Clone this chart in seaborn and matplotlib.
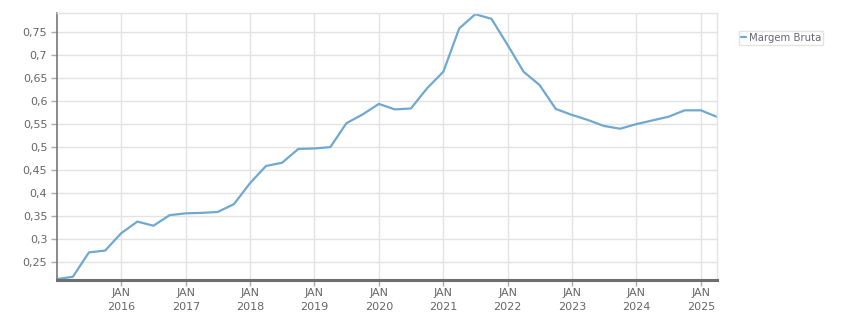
import matplotlib
matplotlib.use("Agg")
import matplotlib.pyplot as plt
import numpy as np
import pandas as pd
import seaborn as sns

# Data (quarterly)
dates = pd.date_range("2015-01-01", "2025-04-01", freq="QS")
margem_bruta = [
    0.212, 0.217, 0.270, 0.274, 0.312, 0.337, 0.328, 0.351,
    0.355, 0.356, 0.358, 0.375, 0.421, 0.458, 0.465, 0.495,
    0.496, 0.499, 0.551, 0.570, 0.593, 0.581, 0.583, 0.627,
    0.663, 0.757, 0.788, 0.778, 0.721, 0.663, 0.634, 0.582,
    0.569, 0.558, 0.545, 0.539, 0.549, 0.557, 0.565, 0.579,
    0.579, 0.565,
]
series_name = "Margem Bruta"
y_ticks = [0.25, 0.3, 0.35, 0.4, 0.45, 0.5, 0.55, 0.6, 0.65, 0.7, 0.75]
y_tick_labels = ["0,25", "0,3", "0,35", "0,4", "0,45", "0,5", "0,55", "0,6", "0,65", "0,7", "0,75"]
x_tick_years = [2016, 2017, 2018, 2019, 2020, 2021, 2022, 2023, 2024, 2025]

df = pd.DataFrame({"date": dates, "value": margem_bruta, "serie": series_name})

sns.set_theme(style="white")
plt.rcParams["font.family"] = ["DejaVu Sans"]

W, H = 851, 313
fig = plt.figure(figsize=(W / 100, H / 100), dpi=100)
ax = fig.add_axes([57 / W, 1 - 280 / H, (716.7 - 57) / W, (280 - 13.3) / H])

line_color = "#6fa9d0"
sns.lineplot(data=df, x="date", y="value", ax=ax, color=line_color, linewidth=1.6,
             label=series_name, legend=False)

ax.set_xlim(dates[0], dates[-1])
ax.set_ylim(0.21, 0.79)

ax.set_yticks(y_ticks)
ax.set_yticklabels(y_tick_labels)
xt = [pd.Timestamp(f"{y}-01-01") for y in x_tick_years]
ax.set_xticks(xt)
ax.set_xticklabels([f"JAN\n{y}" for y in x_tick_years])

ax.grid(True, color="#e3e3e3", linewidth=1)
ax.set_axisbelow(True)
ax.set_xlabel("")
ax.set_ylabel("")

for s in ["top", "right"]:
    ax.spines[s].set_color("#e3e3e3")
    ax.spines[s].set_linewidth(1)
ax.spines["left"].set_color("#777777")
ax.spines["left"].set_linewidth(1.2)
ax.spines["bottom"].set_color("#6e6e6e")
ax.spines["bottom"].set_linewidth(2.2)

ax.tick_params(axis="y", which="both", left=True, length=4, width=1, color="#aaaaaa",
               labelsize=8, labelcolor="#666666", pad=3)
ax.tick_params(axis="x", which="both", bottom=True, length=4, width=1, color="#aaaaaa",
               labelsize=8, labelcolor="#666666", pad=2)
for lbl in ax.get_xticklabels():
    lbl.set_linespacing(1.5)

leg = fig.legend(handles=ax.get_lines()[:1], labels=[series_name],
                 loc="upper left", bbox_to_anchor=(739 / W, 1 - 30.5 / H),
                 frameon=True, fontsize=7.3, handlelength=0.5, handletextpad=0.25,
                 borderpad=0.2, borderaxespad=0, fancybox=False,
                 labelcolor="#666677")
leg.get_frame().set_edgecolor("#dddddd")
leg.get_frame().set_linewidth(1)

fig.savefig("out.png", dpi=100, facecolor="white")
